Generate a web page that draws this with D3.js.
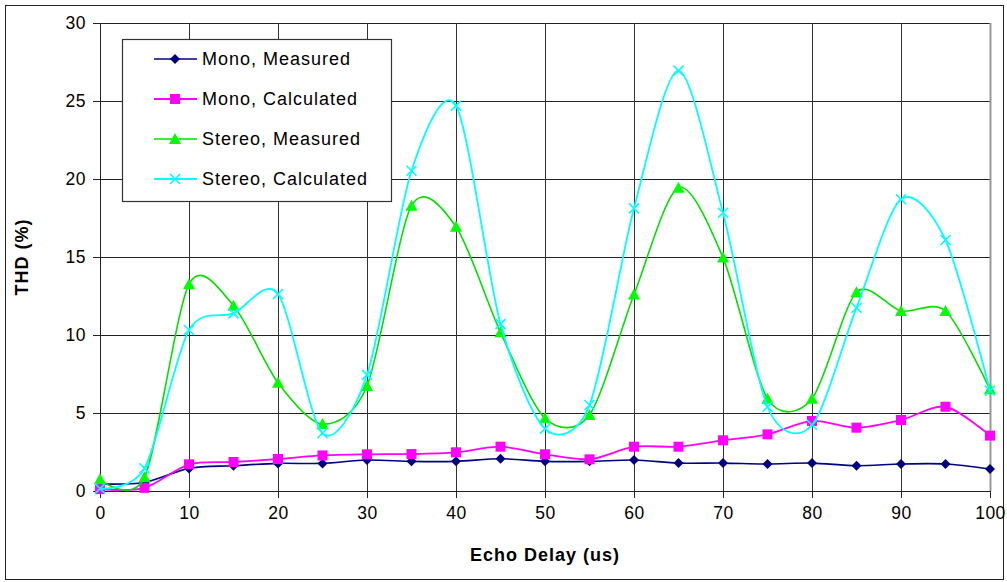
<!DOCTYPE html>
<html>
<head>
<meta charset="utf-8">
<script src="https://cdn.jsdelivr.net/npm/d3@7"></script>
<style>
  body { margin: 0; background: #fff; }
  svg { font-family: "Liberation Sans", Arial, sans-serif; }
</style>
</head>
<body>
<svg id="chart" width="1007" height="582"></svg>
<script>
// Data
var delays = [0, 5, 10, 15, 20, 25, 30, 35, 40, 45, 50, 55, 60, 65, 70, 75, 80, 85, 90, 95, 100];
var monoMeasured = [0.45, 0.55, 1.45, 1.62, 1.77, 1.77, 1.99, 1.9, 1.9, 2.07, 1.9, 1.9, 1.99, 1.79, 1.79, 1.73, 1.79, 1.62, 1.73, 1.73, 1.41];
var monoCalculated = [0.12, 0.2, 1.71, 1.86, 2.05, 2.28, 2.35, 2.37, 2.48, 2.84, 2.35, 2.03, 2.84, 2.84, 3.25, 3.63, 4.49, 4.06, 4.55, 5.4, 3.55];
var stereoMeasured = [0.75, 0.88, 13.25, 11.88, 6.94, 4.29, 6.73, 18.29, 16.94, 10.17, 4.66, 4.87, 12.6, 19.44, 14.96, 5.92, 5.92, 12.74, 11.54, 11.54, 6.52];
var stereoCalculated = [0.15, 1.45, 10.32, 11.39, 12.63, 3.7, 7.44, 20.53, 24.7, 10.7, 4.0, 5.51, 18.12, 26.95, 17.84, 5.4, 4.23, 11.75, 18.7, 16.09, 6.43];
var xTicks = [0, 10, 20, 30, 40, 50, 60, 70, 80, 90, 100];
var yTicks = [0, 5, 10, 15, 20, 25, 30];

var series = [
    { name: "Mono, Measured", values: monoMeasured, color: "#000080", marker: "diamond", width: 1.6 },
    { name: "Mono, Calculated", values: monoCalculated, color: "#ff00ff", marker: "square", width: 1.8 },
    { name: "Stereo, Measured", values: stereoMeasured, color: "#00e000", marker: "triangle", width: 1.6 },
    { name: "Stereo, Calculated", values: stereoCalculated, color: "#00ffff", marker: "x", width: 1.8 }
];

var svg = d3.select("#chart");

// outer chart frame
svg.append("rect")
    .attr("x", 5.5).attr("y", 5.5)
    .attr("width", 998).attr("height", 574)
    .attr("fill", "#fff")
    .attr("stroke", "#222")
    .attr("stroke-width", 1);

var margin = { top: 23, right: 17, bottom: 91, left: 100 };
var width = 1007 - margin.left - margin.right;
var height = 582 - margin.top - margin.bottom;

var xScale = d3.scaleLinear().domain([0, 100]).range([margin.left, margin.left + width]);
var yScale = d3.scaleLinear().domain([0, 30]).range([margin.top + height, margin.top]);

// gridlines
svg.append("g")
    .selectAll("line")
    .data(yTicks)
    .enter()
    .append("line")
    .attr("x1", margin.left).attr("x2", margin.left + width)
    .attr("y1", d => Math.round(yScale(d)) + 0.5).attr("y2", d => Math.round(yScale(d)) + 0.5)
    .attr("stroke", "#222").attr("stroke-width", 1);

svg.append("g")
    .selectAll("line")
    .data(xTicks)
    .enter()
    .append("line")
    .attr("y1", margin.top).attr("y2", margin.top + height)
    .attr("x1", d => Math.round(xScale(d)) + 0.5).attr("x2", d => Math.round(xScale(d)) + 0.5)
    .attr("stroke", "#333").attr("stroke-width", 1);

// right plot border is gray
svg.append("line")
    .attr("x1", margin.left + width + 0.5).attr("x2", margin.left + width + 0.5)
    .attr("y1", margin.top).attr("y2", margin.top + height)
    .attr("stroke", "#999").attr("stroke-width", 2);

// axes
var xAxis = d3.axisBottom(xScale).tickValues(xTicks).tickSize(7).tickPadding(9).tickSizeOuter(0);
var yAxis = d3.axisLeft(yScale).tickValues(yTicks).tickSize(7).tickPadding(7).tickSizeOuter(0);

var gx = svg.append("g")
    .attr("transform", "translate(0," + (margin.top + height) + ")")
    .call(xAxis);
var gy = svg.append("g")
    .attr("transform", "translate(" + margin.left + ",0)")
    .call(yAxis);

[gx, gy].forEach(function (g) {
    g.select(".domain").attr("stroke", "#222");
    g.selectAll(".tick line").attr("stroke", "#222");
    g.selectAll("text").attr("font-size", 17.5).attr("fill", "#000")
        .attr("letter-spacing", 0.5)
        .attr("font-family", "Liberation Sans, Arial, sans-serif");
});

// axis titles
svg.append("text")
    .attr("x", xScale(50)).attr("y", 561)
    .attr("text-anchor", "middle")
    .attr("font-size", 18).attr("font-weight", "bold")
    .attr("letter-spacing", 1)
    .text("Echo Delay (us)");

svg.append("text")
    .attr("transform", "translate(28," + yScale(15) + ") rotate(-90)")
    .attr("text-anchor", "middle")
    .attr("font-size", 18).attr("font-weight", "bold")
    .attr("letter-spacing", 1)
    .text("THD (%)");

// marker shapes
function markerPath(type) {
    if (type === "diamond") return "M0,-5L5,0L0,5L-5,0Z";
    if (type === "square") return "M-5,-5H5V5H-5Z";
    if (type === "triangle") return "M0,-6L6,5H-6Z";
    return "M-5,-5L5,5M-5,5L5,-5";
}

function drawMarker(g, type, color) {
    var p = g.append("path").attr("d", markerPath(type));
    if (type === "x") {
        p.attr("fill", "none").attr("stroke", color).attr("stroke-width", 1.6);
    } else {
        p.attr("fill", type === "triangle" ? "#00ff00" : color).attr("stroke", "none");
    }
}

// smoothed lines, a bit tighter than plain Catmull-Rom
var line = d3.line()
    .x((d, i) => xScale(delays[i]))
    .y(d => yScale(d))
    .curve(d3.curveCardinal.tension(0.15));

series.forEach(function (s) {
    svg.append("path")
        .datum(s.values)
        .attr("fill", "none")
        .attr("stroke", s.color)
        .attr("stroke-width", s.width)
        .attr("d", line);

    s.values.forEach(function (v, i) {
        var g = svg.append("g")
            .attr("transform", "translate(" + xScale(delays[i]) + "," + yScale(v) + ")");
        drawMarker(g, s.marker, s.color);
    });
});

// legend
var legend = svg.append("g").attr("transform", "translate(122,39)");
legend.append("rect")
    .attr("x", 0.5).attr("y", 0.5)
    .attr("width", 269).attr("height", 162)
    .attr("fill", "#fff")
    .attr("stroke", "#333")
    .attr("stroke-width", 1.2);

series.forEach(function (s, i) {
    var row = legend.append("g").attr("transform", "translate(0," + (20 + i * 40) + ")");
    row.append("line")
        .attr("x1", 32).attr("x2", 75)
        .attr("stroke", s.color).attr("stroke-width", s.width);
    drawMarker(row.append("g").attr("transform", "translate(53,0)"), s.marker, s.color);
    row.append("text")
        .attr("x", 80).attr("y", 6)
        .attr("font-size", 18)
        .attr("letter-spacing", 1)
        .text(s.name);
});
</script>
</body>
</html>
